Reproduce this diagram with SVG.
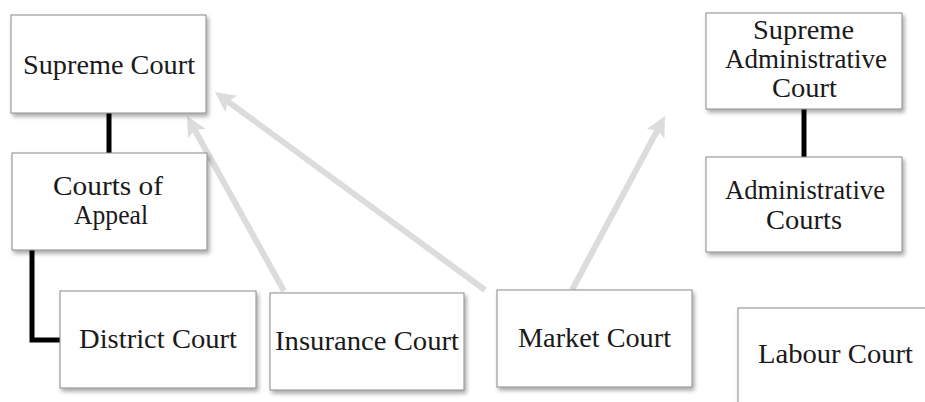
<svg xmlns="http://www.w3.org/2000/svg" width="925" height="402" viewBox="0 0 925 402">
  <defs>
    <filter id="shadow" x="-10%" y="-10%" width="130%" height="130%">
      <feDropShadow dx="2" dy="3" stdDeviation="2" flood-color="#000" flood-opacity="0.35"/>
    </filter>
    <style>
      .box { fill: #fefefe; stroke: #8a8a8a; stroke-width: 1; filter: url(#shadow); }
      .lbl { font-family: "Liberation Serif", "Times New Roman", serif; font-size: 28px; fill: #1a1a1a; text-anchor: middle; }
      .tree { fill: none; stroke: #000; stroke-width: 5; stroke-linejoin: miter; }
      .link { fill: none; stroke: #dcdcdc; stroke-width: 6; }
      .head { fill: #dcdcdc; stroke: none; }
    </style>
  </defs>

  <g id="connectors">
    <line class="tree" x1="109" y1="113" x2="109" y2="154"/>
    <polyline class="tree" points="32,250 32,340 61,340"/>
    <line class="tree" x1="804" y1="109" x2="804" y2="157"/>
    <line class="link" x1="284" y1="291" x2="194.76" y2="130"/>
    <polygon class="head" points="187,116 205.45,128.65 194.76,130 187.95,138.35"/>
    <line class="link" x1="485" y1="290" x2="227.9" y2="101.46"/>
    <polygon class="head" points="215,92 237.03,95.76 227.9,101.46 225.21,111.88"/>
    <line class="link" x1="572" y1="290" x2="657.46" y2="130.11"/>
    <polygon class="head" points="665,116 664.4,138.35 657.46,130.11 646.76,128.93"/>
  </g>

  <g id="supreme-court">
    <rect class="box" x="11" y="15" width="195" height="98"/>
    <text class="lbl" x="109" y="73.5" textLength="172" lengthAdjust="spacingAndGlyphs">Supreme Court</text>
  </g>

  <g id="courts-of-appeal">
    <rect class="box" x="12" y="153" width="195" height="97"/>
    <text class="lbl" x="108" y="195" textLength="110" lengthAdjust="spacingAndGlyphs">Courts of</text>
    <text class="lbl" x="111" y="224" textLength="74" lengthAdjust="spacingAndGlyphs">Appeal</text>
  </g>

  <g id="district-court">
    <rect class="box" x="60" y="291" width="196" height="97"/>
    <text class="lbl" x="158" y="348" textLength="158" lengthAdjust="spacingAndGlyphs">District Court</text>
  </g>

  <g id="insurance-court">
    <rect class="box" x="270" y="293" width="194" height="97"/>
    <text class="lbl" x="367" y="350" textLength="184" lengthAdjust="spacingAndGlyphs">Insurance Court</text>
  </g>

  <g id="market-court">
    <rect class="box" x="497" y="290" width="195" height="97"/>
    <text class="lbl" x="594.5" y="347" textLength="153" lengthAdjust="spacingAndGlyphs">Market Court</text>
  </g>

  <g id="labour-court">
    <rect class="box" x="738" y="308" width="196" height="97"/>
    <text class="lbl" x="835.5" y="363" textLength="155" lengthAdjust="spacingAndGlyphs">Labour Court</text>
  </g>

  <g id="supreme-administrative-court">
    <rect class="box" x="706" y="13" width="196" height="96"/>
    <text class="lbl" x="803.5" y="38.5" textLength="101" lengthAdjust="spacingAndGlyphs">Supreme</text>
    <text class="lbl" x="806" y="68" textLength="162" lengthAdjust="spacingAndGlyphs">Administrative</text>
    <text class="lbl" x="804.5" y="97" textLength="65" lengthAdjust="spacingAndGlyphs">Court</text>
  </g>

  <g id="administrative-courts">
    <rect class="box" x="706" y="157" width="196" height="95"/>
    <text class="lbl" x="805" y="199" textLength="160" lengthAdjust="spacingAndGlyphs">Administrative</text>
    <text class="lbl" x="804" y="229" textLength="76" lengthAdjust="spacingAndGlyphs">Courts</text>
  </g>
</svg>
